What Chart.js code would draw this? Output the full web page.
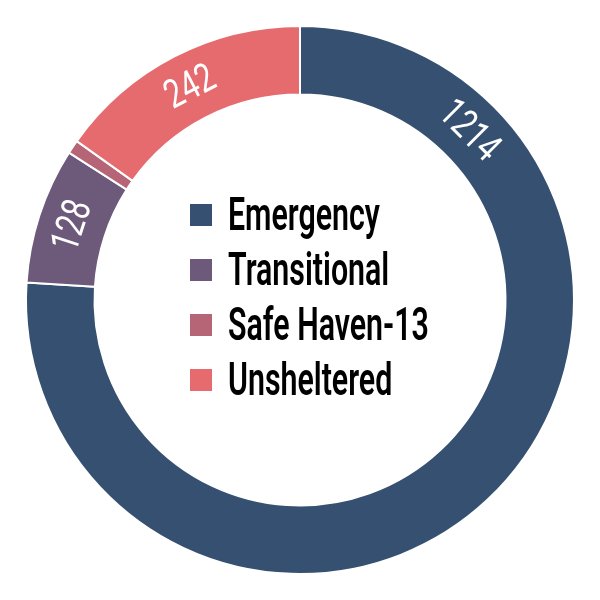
<!DOCTYPE html>
<html>
<head>
<meta charset="utf-8">
<script src="https://cdn.jsdelivr.net/npm/chart.js@4.4.3/dist/chart.umd.min.js"></script>
<style>
  html, body { margin: 0; padding: 0; background: #fff; }
  canvas { display: block; }
</style>
</head>
<body>
<canvas id="myChart" width="600" height="600"></canvas>
<script>
const categories = ['Emergency', 'Transitional', 'Safe Haven-13', 'Unsheltered']
const values = [1214, 128, 13, 242]
const colors = ['#355070', '#6d597a', '#b56576', '#e56b6f']

// value labels along the ring, rotated with the arc
const arcLabels = {
  id: 'arcLabels',
  afterDatasetsDraw(chart) {
    const ctx = chart.ctx
    const meta = chart.getDatasetMeta(0)
    meta.data.forEach((arc, i) => {
      const span = arc.endAngle - arc.startAngle
      if (span < 0.15) return
      const a = arc.startAngle + Math.min(span / 2, Math.PI / 4)
      const r = (arc.innerRadius + arc.outerRadius) / 2
      ctx.save()
      ctx.translate(arc.x + Math.cos(a) * r, arc.y + Math.sin(a) * r)
      ctx.rotate(a + Math.PI / 2)
      ctx.scale(0.76, 1)
      ctx.fillStyle = '#fff'
      ctx.font = '400 40px Roboto'
      ctx.textAlign = 'center'
      ctx.textBaseline = 'middle'
      ctx.fillText(String(values[i]), 0, 2)
      ctx.restore()
    })
  }
}

// legend in the hole
const centerLegend = {
  id: 'centerLegend',
  afterDraw(chart) {
    const ctx = chart.ctx
    const top = 215
    const step = 55
    categories.forEach((name, i) => {
      const y = top + i * step
      ctx.fillStyle = colors[i]
      ctx.fillRect(190, y - 11, 22, 22)
      ctx.save()
      ctx.translate(228, y + 15)
      ctx.scale(0.66, 1)
      ctx.fillStyle = '#000'
      ctx.font = '600 46px Roboto'
      ctx.textBaseline = 'alphabetic'
      ctx.fillText(name, 0, 0)
      ctx.restore()
    })
  }
}

new Chart(document.getElementById('myChart'), {
  type: 'doughnut',
  data: {
    labels: categories,
    datasets: [{
      data: values,
      backgroundColor: colors,
      borderColor: '#fff',
      borderWidth: 2,
      hoverOffset: 0
    }]
  },
  options: {
    responsive: false,
    animation: false,
    cutout: '75%',
    layout: { padding: 25 },
    plugins: {
      legend: { display: false },
      tooltip: { enabled: false }
    }
  },
  plugins: [arcLabels, centerLegend]
})
</script>
</body>
</html>
